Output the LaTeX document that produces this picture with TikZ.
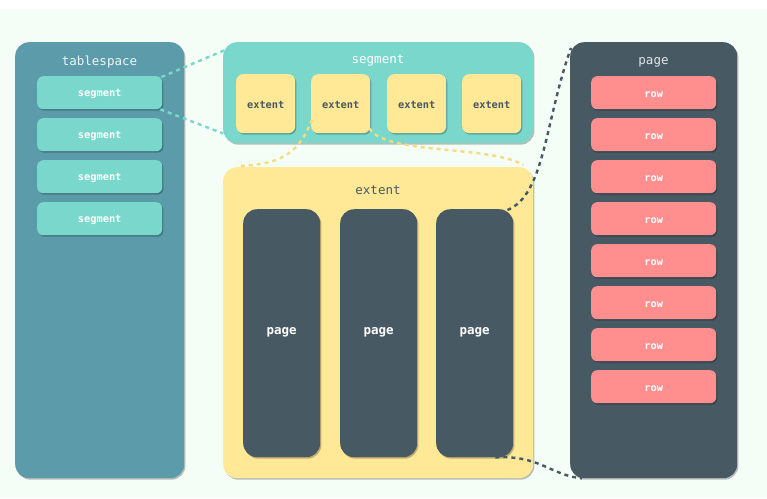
\documentclass[tikz,border=0pt]{standalone}
\usepackage{fontspec}
\setmonofont{DejaVu Sans Mono}
\usetikzlibrary{shadows}
\definecolor{bgmint}{HTML}{F4FDF6}
\definecolor{tscol}{HTML}{5B9BAA}
\definecolor{segcol}{HTML}{79D8CB}
\definecolor{extcol}{HTML}{FFE896}
\definecolor{darkcol}{HTML}{475963}
\definecolor{rowcol}{HTML}{FF8F8F}
\definecolor{yconn}{HTML}{F5DC82}
\tikzset{
  x=1pt,y=-1pt,
  box/.style={anchor=north west,rounded corners=#1,inner sep=0pt,
    drop shadow={shadow xshift=1.2pt,shadow yshift=-1.5pt,opacity=0.25,fill=black}},
  box/.default=6pt,
  ttl/.style={font=\ttfamily\fontsize{12.5}{14}\selectfont},
  lbl/.style={font=\ttfamily\bfseries\fontsize{10.3}{12}\selectfont},
  conn/.style={line width=2.4pt,dash pattern=on 4pt off 4pt},
}
\begin{document}
\begin{tikzpicture}
\fill[white] (0,0) rectangle (767,498);
\fill[bgmint] (0,9) rectangle (767,498);
\useasboundingbox (0,0) rectangle (767,498);

% tablespace
\node[box=14pt,fill=tscol,minimum width=169pt,minimum height=436pt] (ts) at (15,42) {};
\node[ttl,text=white!90!tscol] (tst) at (99.5,62) {tablespace};
\foreach \i/\y in {1/76,2/118,3/160,4/202}{
  \node[box=6pt,fill=segcol,minimum width=125pt,minimum height=33pt] (s\i) at (37,\y) {};
  \node[lbl,text=white] (s\i t) at ([yshift=-1.5pt]s\i.center) {segment};
}

% segment
\node[box=14pt,fill=segcol,minimum width=310pt,minimum height=101pt] (seg) at (223,42) {};
\node[ttl,text=white] (segt) at (378,60) {segment};
\foreach \i/\x in {1/236,2/311,3/387,4/462}{
  \node[box=7pt,fill=extcol,minimum width=59pt,minimum height=59pt] (e\i) at (\x,74) {};
  \node[lbl,text=darkcol] (e\i t) at ([yshift=-1pt]e\i.center) {extent};
}

% extent
\node[box=14pt,fill=extcol,minimum width=310pt,minimum height=311pt] (ext) at (223,167) {};
\node[ttl,text=darkcol] (extt) at (378,190.5) {extent};
\foreach \i/\x in {1/243,2/340,3/436}{
  \node[box=14pt,fill=darkcol,minimum width=77pt,minimum height=248pt] (p\i) at (\x,209) {};
  \node[text=white,font=\ttfamily\bfseries\fontsize{12.5}{14}\selectfont] (p\i t) at ([yshift=1pt]p\i.center) {page};
}

% page
\node[box=14pt,fill=darkcol,minimum width=167pt,minimum height=436pt] (pg) at (570,42) {};
\node[ttl,text=white!85!darkcol] (pgt) at (653.5,62) {page};
\foreach \i/\y in {1/76,2/118,3/160,4/202,5/244,6/286,7/328,8/370}{
  \node[box=6pt,fill=rowcol,minimum width=125pt,minimum height=33pt] (r\i) at (591,\y) {};
  \node[lbl,text=white] (r\i t) at ([yshift=-1.5pt]r\i.center) {row};
}

% connectors
\draw[conn,segcol] ([xshift=-1pt,yshift=-1pt]s1.north east) -- ([xshift=2pt,yshift=-8pt]seg.north west);
\draw[conn,segcol] ([xshift=-2pt]s1.south east) -- ([yshift=10pt]seg.south west);
\draw[conn,yconn] ([xshift=1pt,yshift=14pt]e2.south west) .. controls (300,150) and (285,165) .. ([xshift=14pt,yshift=1pt]ext.north west);
\draw[conn,yconn] ([xshift=-1pt,yshift=5pt]e2.south east) .. controls (385,155) and (490,145) .. ([xshift=-10pt,yshift=2pt]ext.north east);
\draw[conn,darkcol] ([xshift=-6pt,yshift=-1pt]p3.north east) .. controls (545,195) and (545,120) .. ([xshift=1pt,yshift=-6pt]pg.north west);
\draw[conn,darkcol] ([xshift=-18pt]p3.south east) .. controls (540,455) and (550,475) .. ([xshift=12pt]pg.south west);
\end{tikzpicture}
\end{document}
